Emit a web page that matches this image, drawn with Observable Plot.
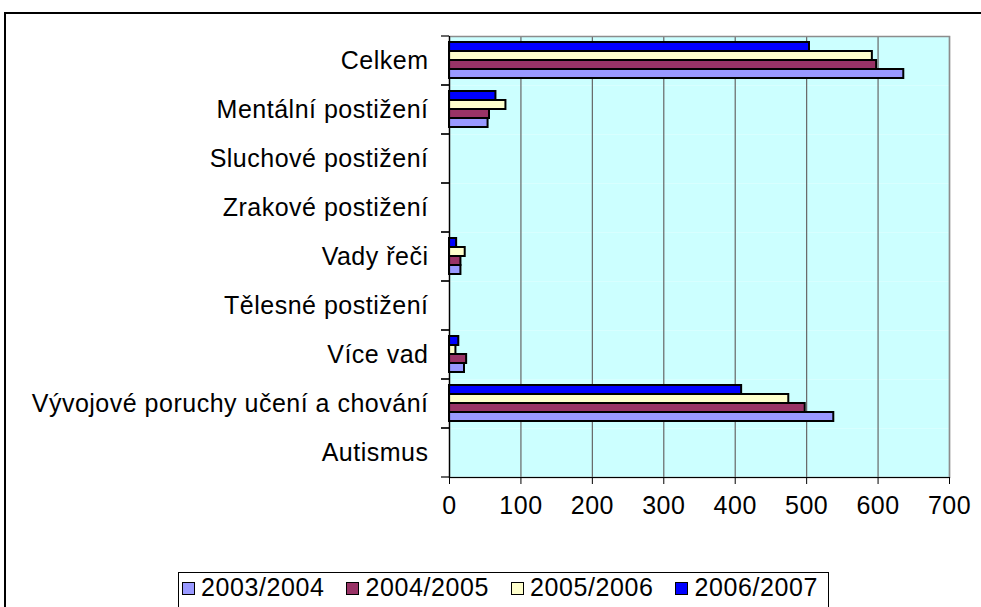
<!DOCTYPE html>
<html>
<head>
<meta charset="utf-8">
<script src="https://cdn.jsdelivr.net/npm/d3@7"></script>
<script src="https://cdn.jsdelivr.net/npm/@observablehq/plot@0.6"></script>
<style>
  html, body { margin: 0; padding: 0; background: #fff; overflow: hidden; }
  #wrap { position: relative; width: 981px; height: 607px; }
  #outer { position: absolute; left: 4px; top: 12px; width: 1200px; height: 800px;
           border-top: 2px solid #000; border-left: 2px solid #000; pointer-events: none; }
  #chart { position: absolute; left: 0; top: 0; }
  #chart text { letter-spacing: 0.5px; }
  #legend { position: absolute; left: 178px; top: 572px; width: 651px; height: 60px;
            box-sizing: border-box; border: 1px solid #000; background: #fff;
            font-family: "Liberation Sans", Arial, sans-serif; font-size: 25px; letter-spacing: 0.6px; color: #000;
            display: flex; justify-content: space-between; align-items: flex-start;
            padding: 0 10px 0 3px; white-space: nowrap; }
  .item { display: flex; align-items: center; line-height: 28px; }
  .sw { width: 11px; height: 11px; border: 1px solid #000; margin-right: 6px; margin-top: 2px; }
</style>
</head>
<body>
<div id="wrap">
  <div id="chart"></div>
  <div id="outer"></div>
  <div id="legend"></div>
</div>
<script>
const categories = ["Celkem", "Mentální postižení", "Sluchové postižení", "Zrakové postižení",
  "Vady řeči", "Tělesné postižení", "Více vad", "Vývojové poruchy učení a chování", "Autismus"];
const series = ["2003/2004", "2004/2005", "2005/2006", "2006/2007"];
const colors = ["#9999ff", "#993366", "#ffffcc", "#0000ff"];
const v2003 = [636, 54, 0, 0, 16, 0, 21, 538, 0];
const v2004 = [598, 56, 0, 0, 16, 0, 24, 498, 0];
const v2005 = [592, 79, 0, 0, 22, 0, 9, 475, 0];
const v2006 = [504, 65, 0, 0, 10, 0, 13, 409, 0];
const xTicks = [0, 100, 200, 300, 400, 500, 600, 700];

const valuesBySeries = [v2003, v2004, v2005, v2006];
const data = [];
series.forEach((s, i) => categories.forEach((c, j) => data.push({category: c, series: s, value: valuesBySeries[i][j]})));

function categoryTicks(index, scales, values, dims) {
  const g = d3.create("svg:g").attr("stroke", "#000").attr("stroke-width", 1.2);
  const x0 = dims.marginLeft;
  for (const y of [dims.marginTop, dims.height - dims.marginBottom]) {
    g.append("line").attr("x1", x0 - 8).attr("x2", x0).attr("y1", y).attr("y2", y);
  }
  return g.node();
}

const chart = Plot.plot({
  width: 981,
  height: 572,
  marginLeft: 449,
  marginRight: 32,
  marginTop: 33,
  marginBottom: 93,
  style: {fontFamily: "'Liberation Sans', Arial, sans-serif", fontSize: "25px", color: "#000", background: "transparent", overflow: "visible"},
  x: {domain: [0, 700], axis: null},
  y: {domain: series.slice().reverse(), paddingInner: 0, paddingOuter: 0.72, align: 0.48, axis: null},
  fy: {domain: categories, padding: 0, axis: null},
  color: {domain: series, range: colors},
  opacity: {type: "identity"},
  marks: [
    Plot.frame({fill: "#ccffff", stroke: null}),
    Plot.gridX({ticks: xTicks, stroke: "#666", strokeOpacity: 1, strokeWidth: 1.2}),
    Plot.frame({facet: "super", stroke: "#8c8c8c", strokeWidth: 1.5}),
    Plot.barX(data, {x: "value", y: "series", fy: "category", fill: "series", stroke: "#000",
      strokeWidth: 2, strokeOpacity: d => (d.value > 0 ? 1 : 0)}),
    Plot.ruleX([0], {stroke: "#000", strokeWidth: 1.2}),
    Plot.frame({facet: "super", anchor: "bottom", stroke: "#000", strokeWidth: 1.2}),
    categoryTicks,
    Plot.axisFy({anchor: "left", label: null, tickSize: 0, tickPadding: 21, fontSize: 25}),
    Plot.axisX({ticks: xTicks, label: null, facetAnchor: "bottom", tickSize: 7, tickPadding: 12, fontSize: 25, stroke: "#000"})
  ]
});
document.getElementById("chart").appendChild(chart);

const legend = d3.select("#legend");
series.forEach((s, i) => {
  const item = legend.append("div").attr("class", "item");
  item.append("div").attr("class", "sw").style("background", colors[i]);
  item.append("span").text(s);
});
</script>
</body>
</html>
